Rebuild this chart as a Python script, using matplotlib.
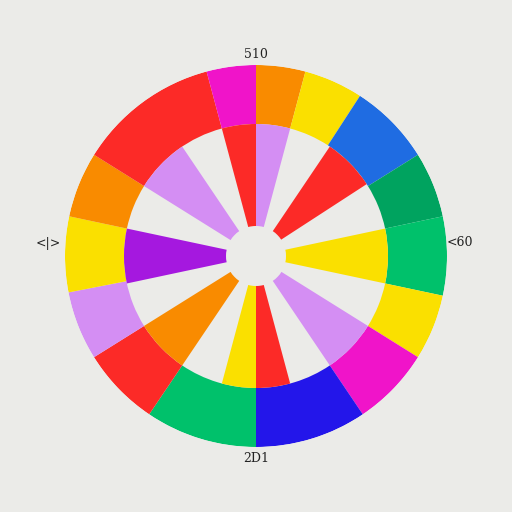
import numpy as np
import matplotlib.pyplot as plt

# outer ring: (start deg, end deg, colour), clockwise from top
outer_start = [0, 15, 33, 58, 78, 102, 122, 146, 180, 214, 238, 259, 282, 302, 345]
outer_end = [15, 33, 58, 78, 102, 122, 146, 180, 214, 238, 259, 282, 302, 345, 360]
outer_colors = ['#F98B00', '#FAE000', '#1F6CE2', '#00A35F', '#00C16B', '#FAE000',
                '#F014C9', '#2316EA', '#00C16B', '#FC2A27', '#D48EF3', '#FAE000',
                '#F98B00', '#FC2A27', '#F014C9']

# inner wedges
inner_start = [0, 34, 78, 122, 165, 180, 214, 258, 302, 345]
inner_end = [15, 57, 102, 146, 180, 195, 238, 282, 326, 360]
inner_colors = ['#D48EF3', '#FC2A27', '#FAE000', '#D48EF3', '#FC2A27', '#FAE000',
                '#F98B00', '#A518DF', '#D48EF3', '#FC2A27']

hole_r = 30
ring_in = 132
ring_out = 191

labels = ['510', '<60', '2D1', '<|>']
label_xy = [(256, 55), (460, 243), (256, 459), (48, 243)]

bg = '#EBEBE8'

fig = plt.figure(figsize=(5.12, 5.12), dpi=100, facecolor=bg)
ax = fig.add_axes([(256 - ring_out) / 512, (256 - ring_out) / 512,
                   2 * ring_out / 512, 2 * ring_out / 512], projection='polar')
ax.set_facecolor(bg)
ax.set_theta_zero_location('N')
ax.set_theta_direction(-1)

for s, e, c in zip(outer_start, outer_end, outer_colors):
    w = np.deg2rad(e - s)
    ax.bar(np.deg2rad(s), ring_out - ring_in, width=w, bottom=ring_in,
           align='edge', color=c, edgecolor='none')

for s, e, c in zip(inner_start, inner_end, inner_colors):
    w = np.deg2rad(e - s)
    ax.bar(np.deg2rad(s), ring_in - hole_r, width=w, bottom=hole_r,
           align='edge', color=c, edgecolor='none')

ax.set_ylim(0, ring_out)
ax.set_xticks([])
ax.set_yticks([])
ax.grid(False)
ax.spines['polar'].set_visible(False)

for t, (x, y) in zip(labels, label_xy):
    fig.text(x / 512, 1 - y / 512, t, ha='center', va='center',
             fontsize=9, family='DejaVu Serif', color='#222222')

fig.savefig('out.png', dpi=100, facecolor=bg)
